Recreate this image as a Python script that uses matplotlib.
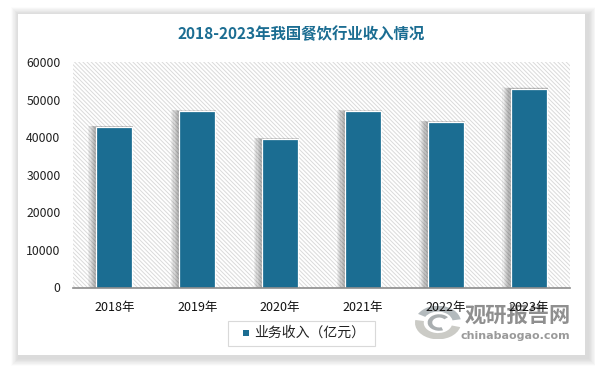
import matplotlib
matplotlib.use('Agg')
import matplotlib.pyplot as plt
from matplotlib.patches import Rectangle, Wedge

plt.rcParams['font.family'] = ['Noto Sans CJK SC', 'DejaVu Sans']
plt.rcParams['hatch.linewidth'] = 0.7

years = ['2018年', '2019年', '2020年', '2021年', '2022年', '2023年']
income = [42700, 46900, 39500, 46900, 44000, 52900]
yticks = [0, 10000, 20000, 30000, 40000, 50000, 60000]
title = '2018-2023年我国餐饮行业收入情况'
legend_label = '业务收入（亿元）'
site_cn = '观研报告网'
site_en = 'chinabaogao.com'
BLUE = '#1b6d92'

W, H = 595, 366
fig = plt.figure(figsize=(W / 100, H / 100), dpi=100, facecolor='white')

# pixel overlay for the card and watermark, sits under the chart axes
bg = fig.add_axes([0, 0, 1, 1], zorder=0)
bg.set_xlim(0, W)
bg.set_ylim(H, 0)
bg.axis('off')
for i in range(12):
    bg.add_patch(Rectangle((18 - 7 + i * 0.6, 14 - 7 + i * 0.6), 567 + 18 - i * 1.2, 341 + 18 - i * 1.2,
                           fc='black', ec='none', alpha=0.012))
bg.add_patch(Rectangle((18, 14), 567, 341, fc='white', ec='none'))
bg.text(517.5, 316.5, site_cn, ha='center', va='center', fontsize=15.3, fontweight='bold',
        color='#8f8f8f')
bg.text(515, 336, site_en, ha='center', va='center', fontsize=8.0, fontweight='bold',
        color='#9a9a9a', family=['DejaVu Sans'])

# logo: unequal limits turn the wedges into ellipses
logo = fig.add_axes([415 / W, 1 - 339 / H, 46 / W, 33 / H], zorder=0.5)
logo.set_xlim(-1, 1)
logo.set_ylim(-1, 1)
logo.axis('off')
logo.add_patch(Wedge((0, -0.02), 1, 170, 345, width=0.38, fc='#cbcbc6', ec='none'))
logo.add_patch(Wedge((0, 0.02), 1, 10, 150, width=0.36, fc='#b3babd', ec='none'))
logo.add_patch(Wedge((0.05, 0), 0.5, 40, 290, width=0.2, fc='#a9aeb0', ec='none'))

ax = fig.add_axes([73 / W, 1 - 287.5 / H, 497 / W, 225.5 / H], zorder=1)
ax.patch.set_alpha(0)
ax.add_patch(Rectangle((0, 0), 1, 1, transform=ax.transAxes, fc='white', ec='#dadada',
                       hatch='\\\\\\\\\\\\\\\\', lw=0, zorder=0))

x = list(range(len(years)))
bar_w = 0.435
# soft shadow on the upper left of the bars
for g in [0.10, 0.085, 0.07, 0.055, 0.04, 0.025, 0.012]:
    ax.bar([i - bar_w / 2 - g for i in x], [v + g * 3500 for v in income], width=bar_w + g + 0.012,
           align='edge', color='black', alpha=0.05, lw=0, zorder=1)
ax.bar(x, income, width=bar_w, color=BLUE, edgecolor='white', lw=0.9, zorder=2)

ax.set_xlim(-0.5, 5.5)
ax.set_ylim(0, 60000)
ax.set_yticks(yticks)
ax.set_xticks(x)
ax.set_xticklabels(years)
ax.tick_params(axis='y', length=0, labelsize=8.8, pad=9, colors='#222222')
ax.tick_params(axis='x', length=0, labelsize=9, pad=9.5, colors='#111111')
for s in ['top', 'left', 'right']:
    ax.spines[s].set_visible(False)
ax.spines['bottom'].set_color('#8c8c8c')
ax.spines['bottom'].set_linewidth(1.2)
ax.spines['bottom'].set_zorder(3)

# top layer: title, legend
top = fig.add_axes([0, 0, 1, 1], zorder=2)
top.set_xlim(0, W)
top.set_ylim(H, 0)
top.axis('off')
top.patch.set_alpha(0)
top.text(301.5, 34, title, ha='center', va='center', fontsize=11.1, fontweight='bold', color=BLUE)

top.add_patch(Rectangle((228, 321), 147, 25, fc='white', ec='#d9d9d9', lw=0.8))
top.add_patch(Rectangle((243, 330), 6, 6, fc=BLUE, ec='none'))
top.text(254, 333, legend_label, ha='left', va='center', fontsize=10, color='#222222')

fig.savefig('out.png', dpi=100, facecolor='white')
